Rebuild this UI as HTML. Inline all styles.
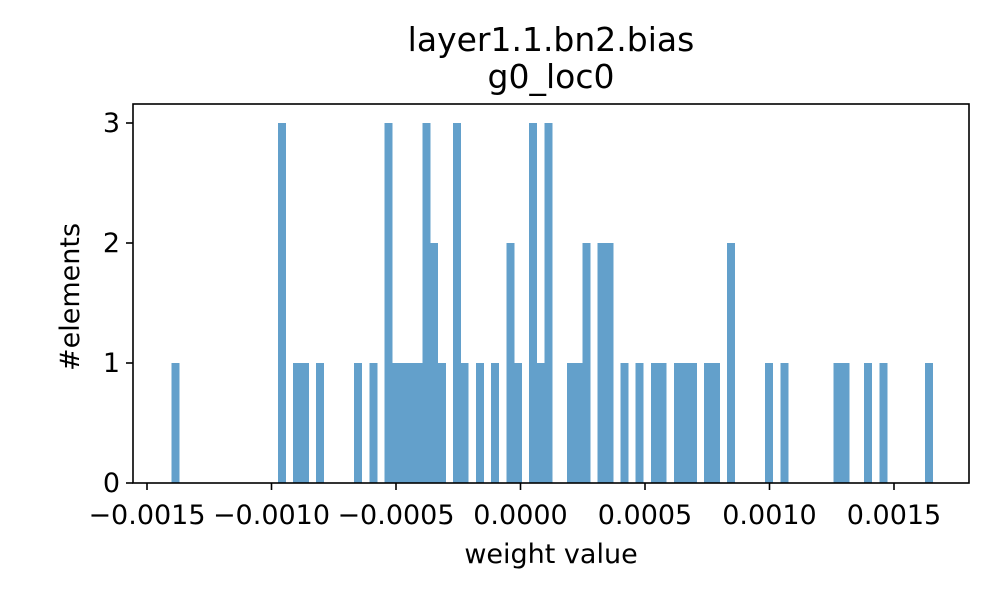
<!DOCTYPE html>
<html><head><meta charset="utf-8"><style>
body{margin:0;background:#fff}
text{font-family:"DejaVu Sans","Liberation Sans",sans-serif;fill:#000}
</style></head><body>
<svg id="chart" width="1000" height="600" xmlns="http://www.w3.org/2000/svg">
<rect width="1000" height="600" fill="#fff"/>
<text x="551" y="51" font-size="33" text-anchor="middle">layer1.1.bn2.bias</text>
<text x="551" y="88" font-size="33" text-anchor="middle">g0_loc0</text>
<g id="bars" shape-rendering="crispEdges"></g>
<g id="axes"></g>
<text x="551" y="563" font-size="27" text-anchor="middle">weight value</text>
<text transform="translate(79,297) rotate(-90)" font-size="27" text-anchor="middle">#elements</text>
</svg>
<script>
const binMin = -0.001402;
const binMax = 0.001655;
const counts = [1,0,0,0,0,0,0,0,0,0, 0,0,0,0,3,0,1,1,0,1, 0,0,0,0,1,0,1,0,3,1, 1,1,1,3,2,1,0,3,1,0, 1,0,1,0,2,1,0,3,1,3, 0,0,1,1,2,0,2,2,0,1, 0,1,0,1,1,0,1,1,1,0, 1,1,0,2,0,0,0,0,1,0, 1,0,0,0,0,0,0,1,1,0, 0,1,0,1,0,0,0,0,0,1];
const xTicks = [-0.0015,-0.0010,-0.0005,0.0000,0.0005,0.0010,0.0015];
const xTickLabels = ["−0.0015","−0.0010","−0.0005","0.0000","0.0005","0.0010","0.0015"];
const yTicks = [0,1,2,3];

const NS="http://www.w3.org/2000/svg";
const L=133,R=969,T=104,B=483;
const X=v=>520.5+v*249000;
const Y=v=>483-v*120;
const bars=document.getElementById('bars');
const w=(binMax-binMin)/counts.length;
counts.forEach((c,i)=>{
  if(!c) return;
  const r=document.createElementNS(NS,'rect');
  const x0=X(binMin+i*w), x1=X(binMin+(i+1)*w);
  r.setAttribute('x',x0);r.setAttribute('width',x1-x0+0.4);
  r.setAttribute('y',Y(c));r.setAttribute('height',Y(0)-Y(c));
  r.setAttribute('fill','#63a0cb');
  
  
  bars.appendChild(r);
});
const ax=document.getElementById('axes');
function el(tag,attrs,txt){const e=document.createElementNS(NS,tag);for(const k in attrs)e.setAttribute(k,attrs[k]);if(txt!==undefined)e.textContent=txt;ax.appendChild(e);return e;}
const frame=el('rect',{x:L,y:T,width:R-L,height:B-T,fill:'none',stroke:'#000','stroke-width':1.6});


xTicks.forEach((v,i)=>{
  const t=el('line',{x1:X(v),x2:X(v),y1:B,y2:B+7,stroke:'#000','stroke-width':1.6});
  
  
  const tx=el('text',{x:X(v),y:B+41,'font-size':27,'text-anchor':'middle'},xTickLabels[i]);
  
  
});
yTicks.forEach(v=>{
  const t=el('line',{x1:L-7,x2:L,y1:Y(v),y2:Y(v),stroke:'#000','stroke-width':1.6});
  
  
  const tx=el('text',{x:L-13,y:Y(v)+9,'font-size':27,'text-anchor':'end'},String(v));
  
  
});
</script>
</body></html>
